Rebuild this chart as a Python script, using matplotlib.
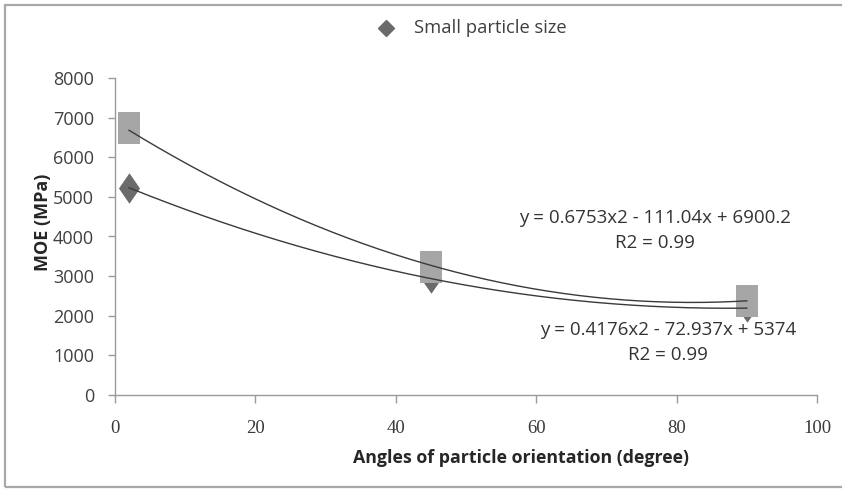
import numpy as np
import matplotlib
matplotlib.use("Agg")
import matplotlib.pyplot as plt
from matplotlib.patches import Rectangle

# data
angles = [2, 45, 90]
moe_small = [5230, 2950, 2210]
moe_large = [6730, 3230, 2360]

# trendline coefficients as printed on the chart
fit_large = [0.6753, -111.04, 6900.2]
fit_small = [0.4176, -72.937, 5374]
eq_large = ["y = 0.6753x2 - 111.04x + 6900.2", "R2 = 0.99"]
eq_small = ["y = 0.4176x2 - 72.937x + 5374", "R2 = 0.99"]

x_ticks = [0, 20, 40, 60, 80, 100]
y_ticks = [0, 1000, 2000, 3000, 4000, 5000, 6000, 7000, 8000]

W, H = 842, 490
fig = plt.figure(figsize=(W / 100, H / 100), dpi=100)
fig.patch.set_facecolor("white")

# outer frame
fig.patches.append(Rectangle((5 / W, 3 / H), 1.0, (H - 8) / H, transform=fig.transFigure,
                             fill=False, edgecolor="#a8a8a8", linewidth=1.6))

ax = fig.add_axes([115 / W, (H - 395) / H, 702 / W, 317 / H])

rect = [(-1, -1.4), (1, -1.4), (1, 1.4), (-1, 1.4), (-1, -1.4)]
diamond = [(0, -1.45), (1, 0), (0, 1.45), (-1, 0), (0, -1.45)]

ax.plot(angles, moe_small, linestyle="none", marker=diamond, markersize=22,
        color="#6b6b6b", markeredgewidth=0, zorder=2)
ax.plot(angles, moe_large, linestyle="none", marker=rect, markersize=23,
        color="#a6a6a6", markeredgewidth=0, zorder=3)

xs = np.linspace(2, 90, 200)
ax.plot(xs, np.polyval(fit_large, xs), color="#3a3a3a", linewidth=1.0, zorder=4)
ax.plot(xs, np.polyval(fit_small, xs), color="#3a3a3a", linewidth=1.0, zorder=4)

ax.set_xlim(0, 100)
ax.set_ylim(0, 8000)
ax.set_xticks(x_ticks)
ax.set_yticks(y_ticks)
ax.set_xticklabels([str(v) for v in x_ticks], family="Liberation Serif",
                   fontsize=13.5, color="#3a3a3a")
ax.set_yticklabels([str(v) for v in y_ticks], family="Open Sans",
                   fontsize=13, color="#404040")
ax.tick_params(axis="x", direction="out", length=6, width=1, color="#9a9a9a", pad=12)
ax.tick_params(axis="y", direction="out", length=5, width=1, color="#9a9a9a", pad=10)
for side in ["top", "right"]:
    ax.spines[side].set_visible(False)
for side in ["left", "bottom"]:
    ax.spines[side].set_color("#9a9a9a")
    ax.spines[side].set_linewidth(1.0)

fig.text(43 / W, 1 - 222 / H, "MOE (MPa)", rotation=90, ha="center", va="center",
         family="Open Sans", fontweight="bold", fontsize=13, color="#262626")
fig.text(521 / W, 1 - 458 / H, "Angles of particle orientation (degree)",
         ha="center", va="center", family="Open Sans", fontweight="bold",
         fontsize=12.8, color="#262626")

# equations
eq_font = dict(ha="center", va="center", family="Open Sans", fontsize=13.5, color="#333333")
fig.text(655 / W, 1 - 218 / H, eq_large[0], **eq_font)
fig.text(655 / W, 1 - 243 / H, eq_large[1], **eq_font)
fig.text(668 / W, 1 - 330 / H, eq_small[0], **eq_font)
fig.text(668 / W, 1 - 355 / H, eq_small[1], **eq_font)

# legend
fig.lines.append(plt.Line2D([386 / W], [1 - 28 / H], transform=fig.transFigure,
                            marker="D", markersize=8, color="#6b6b6b", linestyle="none"))
fig.text(414 / W, 1 - 28 / H, "Small particle size", ha="left", va="center",
         family="Open Sans", fontsize=13.2, color="#404040")

fig.savefig("out.png", dpi=100)
